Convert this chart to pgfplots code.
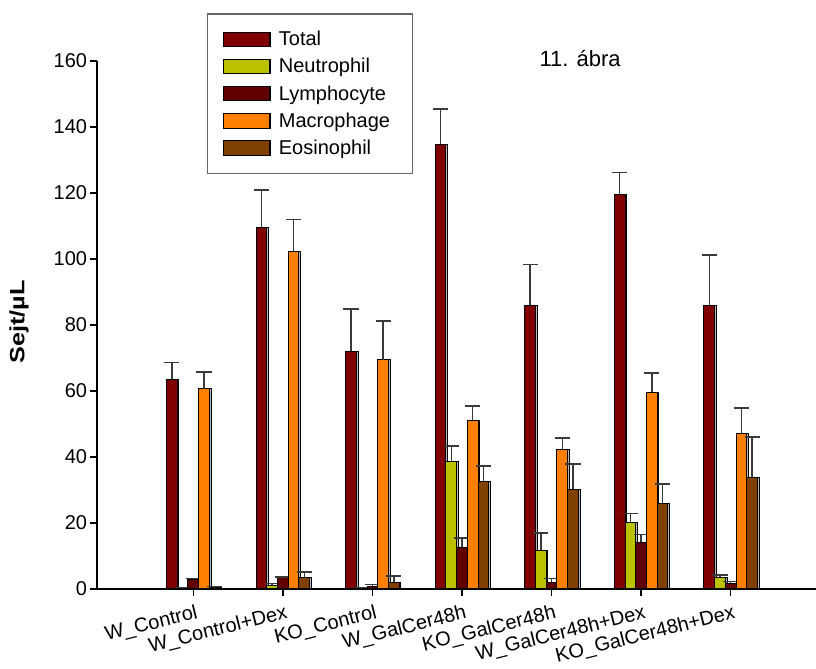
\documentclass[border=0pt]{standalone}
\usepackage{fontspec}
\setmainfont{Liberation Sans}
\usepackage{pgfplots}
\usepackage{pgfplotstable}
\pgfplotsset{compat=1.18}

\definecolor{ctotal}{HTML}{800000}
\definecolor{cneut}{HTML}{BBC000}
\definecolor{clymph}{HTML}{600000}
\definecolor{cmacro}{HTML}{FF8000}
\definecolor{ceos}{HTML}{804000}
\definecolor{errc}{HTML}{3A3A3A}

% x  value  error(plus)
\pgfplotstableread{
x y e
0 63.5 5.1
1 109.4 11.5
2 72.1 12.7
3 134.8 10.6
4 86.0 12.4
5 119.6 6.6
6 86.0 15.2
}\total
\pgfplotstableread{
x y e
0 0.3 0.1
1 1.0 0.6
2 0.2 0.2
3 38.6 4.7
4 11.8 5.1
5 20.1 2.8
6 3.5 0.8
}\neut
\pgfplotstableread{
x y e
0 2.9 0.3
1 3.4 0.2
2 0.8 0.5
3 12.7 2.7
4 2.1 1.0
5 14.2 2.3
6 1.7 0.6
}\lymph
\pgfplotstableread{
x y e
0 60.7 5.1
1 102.4 9.5
2 69.4 11.8
3 51.1 4.3
4 42.2 3.5
5 59.6 5.9
6 47.2 7.6
}\macro
\pgfplotstableread{
x y e
0 0.6 0.1
1 3.4 1.8
2 2.0 1.9
3 32.6 4.6
4 30.2 7.7
5 26.0 5.8
6 33.9 12.2
}\eos

\begin{document}
\begin{tikzpicture}
\begin{axis}[
  name=ax,
  scale only axis,
  clip=false,
  width=539.25pt, height=396pt,
  xmin=-1.075, xmax=6.952,
  ymin=0, ymax=160,
  axis x line*=bottom, axis y line*=left,
  axis line style={line width=1.1pt, -},
  ybar=0pt, bar width=0.1195,
  xtick={0,...,6},
  xticklabels={W\_Control, W\_Control+Dex, KO\_Control, W\_GalCer48h, KO\_GalCer48h, W\_GalCer48h+Dex, KO\_GalCer48h+Dex},
  x tick label style={rotate=14, anchor=north east, inner sep=1pt, xshift=1pt, yshift=-5pt},
  ytick={0,20,...,160},
  yticklabel style={inner xsep=2pt},
  tick align=outside,
  major tick length=5.25pt,
  tick style={line width=1pt, black},
  ticklabel style={font=\fontsize{15}{18}\selectfont},
  /pgf/number format/assume math mode=true,
  ylabel={\scalebox{1.22}[1]{\bfseries Sejt/µL}},
  ylabel style={at={(rel axis cs:-0.1085,0.506)}, anchor=center, font=\fontsize{15.5}{18}\selectfont},
  legend cell align=left,
  legend style={at={(rel axis cs:0.1534,1.0903)}, anchor=north west,
    draw=gray!80!black, line width=0.9pt, fill=white,
    font=\fontsize{15}{18}\selectfont,
    inner xsep=11pt, inner ysep=11pt, row sep=4pt,
    /tikz/every odd column/.append style={column sep=5pt},
    text width=87pt},
  every axis plot/.append style={draw=black, line width=0.75pt,
    preaction={fill=gray!55, transform canvas={xshift=1.3pt}}},
  error bars/y dir=plus, error bars/y explicit,
  error bars/error bar style={errc, line width=1.1pt},
  error bars/error mark options={rotate=90, mark size=5.7pt, errc, line width=1.1pt},
]
\addplot[fill=ctotal, legend image code/.code={\draw[fill=ctotal,draw=black,line width=0.75pt] (0pt,-5.35pt) rectangle (34.5pt,5.35pt);}]
  table[x=x, y=y, y error=e] {\total};
\addplot[fill=cneut, legend image code/.code={\draw[fill=cneut,draw=black,line width=0.75pt] (0pt,-5.35pt) rectangle (34.5pt,5.35pt);}]
  table[x=x, y=y, y error=e] {\neut};
\addplot[fill=clymph, legend image code/.code={\draw[fill=clymph,draw=black,line width=0.75pt] (0pt,-5.35pt) rectangle (34.5pt,5.35pt);}]
  table[x=x, y=y, y error=e] {\lymph};
\addplot[fill=cmacro, legend image code/.code={\draw[fill=cmacro,draw=black,line width=0.75pt] (0pt,-5.35pt) rectangle (34.5pt,5.35pt);}]
  table[x=x, y=y, y error=e] {\macro};
\addplot[fill=ceos, legend image code/.code={\draw[fill=ceos,draw=black,line width=0.75pt] (0pt,-5.35pt) rectangle (34.5pt,5.35pt);}]
  table[x=x, y=y, y error=e] {\eos};
\legend{Total, Neutrophil, Lymphocyte, Macrophage, Eosinophil}
\node[font=\fontsize{16.5}{19}\selectfont, anchor=base] at (rel axis cs:0.672,0.9905) {11. ábra};
\end{axis}
\pgfresetboundingbox
\path[use as bounding box] ([xshift=-72.75pt,yshift=-60pt]ax.south west) rectangle ([yshift=45.75pt]ax.north east);
\end{tikzpicture}
\end{document}
